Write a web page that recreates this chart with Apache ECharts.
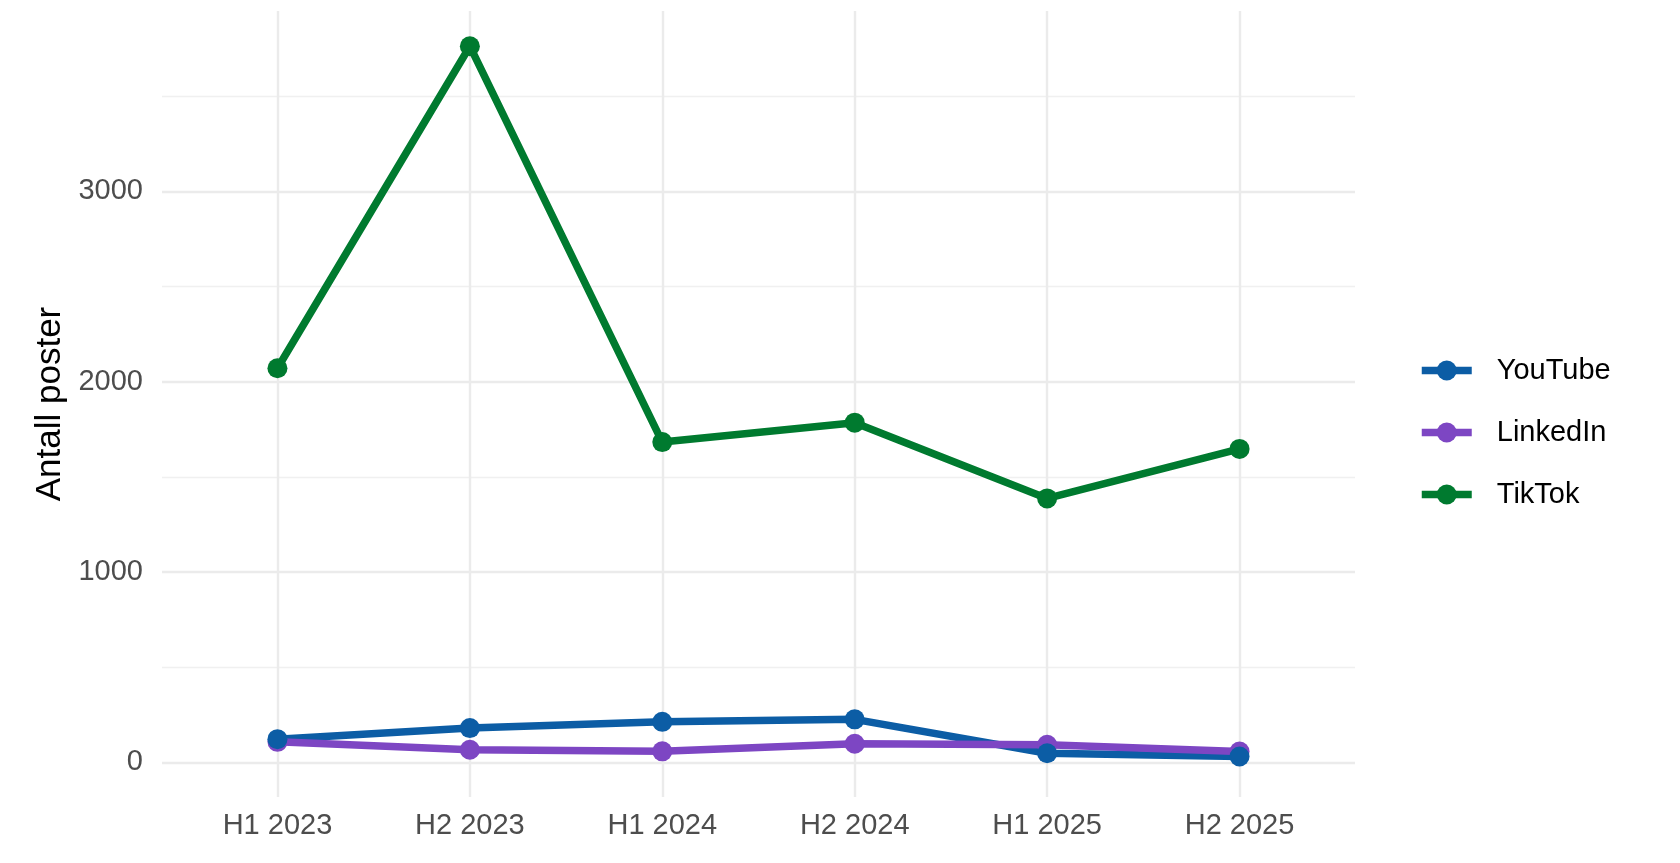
<!DOCTYPE html>
<html>
<head>
<meta charset="utf-8">
<script src="https://cdn.jsdelivr.net/npm/echarts@6/dist/echarts.min.js"></script>
<style>
  html, body { margin: 0; padding: 0; background: #fff; }
  #chart { width: 1680px; height: 863px; }
</style>
</head>
<body>
<div id="chart"></div>
<script>
// half-year periods on the x axis
const periods = ['H1 2023', 'H2 2023', 'H1 2024', 'H2 2024', 'H1 2025', 'H2 2025'];

// posts per platform
const youtube = [122, 180, 213, 226, 48, 31];
const linkedin = [108, 66, 58, 98, 92, 57];
const tiktok = [2071, 3763, 1683, 1785, 1387, 1647];

const yMajorTicks = [0, 1000, 2000, 3000];
const yMinorTicks = [500, 1500, 2500, 3500];

const colors = { YouTube: '#0C5DA5', LinkedIn: '#7D46C3', TikTok: '#007A2F' };
const FONT = '"Liberation Sans", Arial, sans-serif';
const LINE_W = 7.5;

const toPoints = arr => arr.map((v, i) => [i, v]);

const chart = echarts.init(document.getElementById('chart'));

const lineSeries = (name, values) => ({
  name,
  type: 'line',
  data: toPoints(values),
  symbol: 'circle',
  showSymbol: false,
  color: colors[name],
  lineStyle: { width: LINE_W, color: colors[name] },
  itemStyle: { color: colors[name] },
  emphasis: { disabled: true },
  animation: false,
  z: 3
});

// ggplot draws the points after all lines, so keep dots in their own series
const dotSeries = (name, values) => ({
  name,
  type: 'scatter',
  data: toPoints(values),
  symbol: 'circle',
  symbolSize: 20,
  itemStyle: { color: colors[name], opacity: 1 },
  emphasis: { disabled: true },
  animation: false,
  z: 4
});

const option = {
  backgroundColor: '#fff',
  textStyle: { fontFamily: FONT },
  grid: { left: 162, right: 325, top: 11, bottom: 66 },
  legend: {
    data: ['YouTube', 'LinkedIn', 'TikTok'],
    orient: 'vertical',
    left: 1418,
    top: 356,
    padding: 0,
    itemWidth: 50,
    itemHeight: 25,
    itemGap: 33,
    lineStyle: { width: LINE_W },
    textStyle: {
      fontFamily: FONT, fontSize: 29, color: '#000',
      lineHeight: 25, padding: [0, 0, 0, 20]
    },
    selectedMode: false
  },
  xAxis: {
    type: 'value',
    min: -0.6,
    max: 5.6,
    axisLine: { show: false },
    axisTick: { show: false, customValues: [0, 1, 2, 3, 4, 5] },
    axisLabel: {
      customValues: [0, 1, 2, 3, 4, 5],
      formatter: v => periods[v],
      fontFamily: FONT,
      fontSize: 29,
      color: '#4D4D4D',
      margin: 14
    },
    splitLine: { show: true, lineStyle: { color: '#EBEBEB', width: 2.4 } }
  },
  yAxis: [
    {
      type: 'value',
      min: -182,
      max: 3948,
      name: 'Antall poster',
      nameLocation: 'middle',
      nameRotate: 90,
      nameGap: 84,
      nameTextStyle: { fontFamily: FONT, fontSize: 35, color: '#000' },
      axisLine: { show: false },
      axisTick: { show: false, customValues: yMajorTicks },
      axisLabel: {
        customValues: yMajorTicks,
        formatter: v => String(v),
        fontFamily: FONT,
        fontSize: 29,
        color: '#4D4D4D',
        margin: 19
      },
      splitLine: { show: true, lineStyle: { color: '#EBEBEB', width: 2.4 } }
    },
    {
      // minor gridlines only
      type: 'value',
      min: -182,
      max: 3948,
      position: 'left',
      axisLine: { show: false },
      axisTick: { show: false, customValues: yMinorTicks },
      axisLabel: { show: false, customValues: yMinorTicks },
      splitLine: { show: true, lineStyle: { color: '#F0F0F0', width: 1.3 } }
    }
  ],
  series: [
    lineSeries('YouTube', youtube),
    lineSeries('LinkedIn', linkedin),
    lineSeries('TikTok', tiktok),
    dotSeries('LinkedIn', linkedin),
    dotSeries('TikTok', tiktok),
    dotSeries('YouTube', youtube)
  ]
};

chart.setOption(option);
</script>
</body>
</html>
